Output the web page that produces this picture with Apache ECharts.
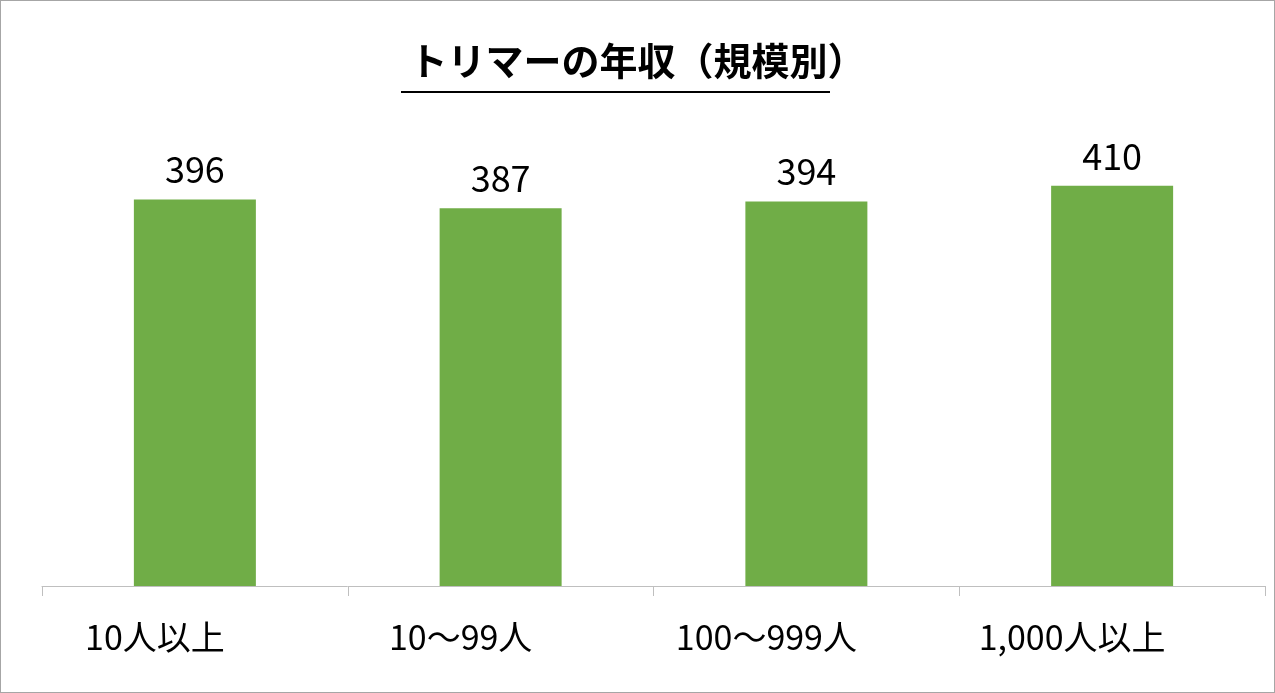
<!DOCTYPE html>
<html><head><meta charset="utf-8">
<script src="https://cdn.jsdelivr.net/npm/echarts@6/dist/echarts.min.js"></script>
<style>html,body{margin:0;padding:0;background:#fff}#c{width:1275px;height:693px;box-sizing:border-box;border:1px solid #a6a6a6}</style>
</head><body><div id="c"></div>
<script>
const categories = ['10人以上','10〜99人','100〜999人','1,000人以上'];
const values = [396, 387, 394, 410];
const titleText = 'トリマーの年収（規模別）';
const chart = echarts.init(document.getElementById('c'));
const ff = '"Noto Sans CJK JP","Noto Sans",sans-serif';
chart.setOption({
  animation:false,
  title:{text:titleText,left:'center',top:36,itemGap:0,textStyle:{fontFamily:ff,fontSize:38,fontWeight:'bold',color:'#000'}},
  graphic:[{type:'line',shape:{x1:400,y1:91,x2:829,y2:91},style:{stroke:'#000',lineWidth:2}}],
  grid:{left:41,right:9,top:97,bottom:106},
  xAxis:{type:'category',data:categories,
    axisLine:{lineStyle:{color:'#bfbfbf'}},
    axisTick:{show:true,length:10,lineStyle:{color:'#bfbfbf'}},
    axisLabel:{fontFamily:ff,fontSize:34,color:'#000',margin:34,padding:[0,80,0,0]}},
  yAxis:{type:'value',min:0,max:500,show:false,splitLine:{show:false}},
  series:[{type:'bar',data:values,barWidth:122,itemStyle:{color:'#70ad47'},
    label:{show:true,position:'top',distance:12,fontFamily:ff,fontSize:36,color:'#000'}}]
});
</script></body></html>
